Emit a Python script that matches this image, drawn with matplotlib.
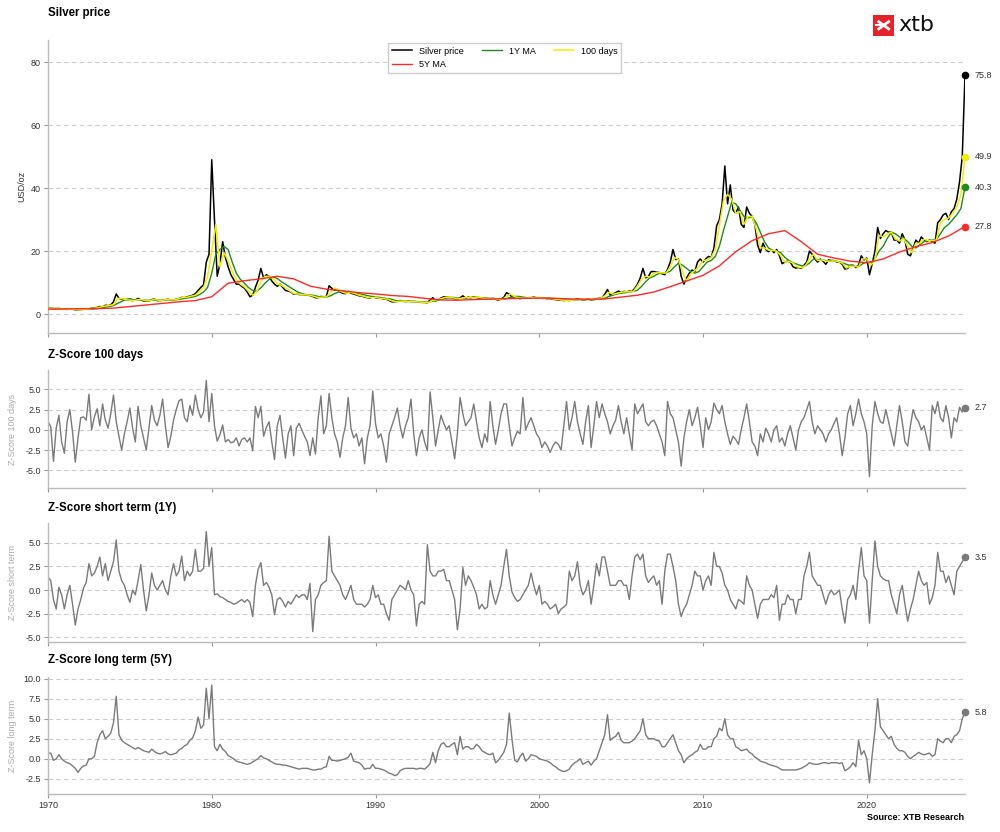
import numpy as np
import matplotlib
matplotlib.use("Agg")
import matplotlib.pyplot as plt
from matplotlib.patches import Rectangle

plt.rcParams['font.family'] = ['Liberation Sans', 'DejaVu Sans']

# silver price USD/oz, one reading every 2 months from Jan 1970, last one end of 2025
price = [
    1.85, 1.80, 1.70, 1.70, 1.75, 1.65,  # 1970
    1.60, 1.50, 1.55, 1.60, 1.35, 1.40,
    1.45, 1.55, 1.60, 1.70, 1.85, 2.00,
    2.10, 2.40, 2.30, 2.80, 2.70, 2.90,
    3.90, 6.40, 5.00, 4.70, 4.60, 4.50,
    4.40, 4.30, 4.50, 5.00, 4.50, 4.20,
    4.10, 4.20, 4.60, 4.80, 4.30, 4.30,
    4.40, 4.60, 4.70, 4.40, 4.50, 4.70,
    4.90, 5.30, 5.20, 5.50, 5.70, 6.00,
    6.50, 7.50, 8.50, 9.30, 16.5, 19.0,
    49.0, 30.0, 12.0, 16.0, 23.0, 18.0,  # 1980
    15.0, 12.5, 11.0, 9.5, 9.5, 8.8,
    8.2, 7.0, 5.5, 6.0, 8.5, 10.8,
    14.5, 11.5, 12.5, 12.0, 10.5, 9.5,
    8.8, 9.5, 8.5, 7.5, 7.3, 7.0,
    6.3, 6.5, 6.2, 6.2, 6.1, 6.0,
    5.9, 5.6, 5.2, 5.2, 5.6, 5.5,
    5.6, 9.0, 8.2, 7.6, 7.8, 7.0,
    6.6, 6.5, 7.2, 6.6, 6.4, 6.1,
    5.8, 5.7, 5.4, 5.2, 5.1, 5.6,
    5.2, 5.0, 5.0, 4.8, 4.7, 4.3,  # 1990
    3.9, 3.9, 4.0, 4.3, 4.1, 4.0,
    4.1, 4.0, 4.0, 3.9, 3.8, 3.7,
    3.7, 3.6, 4.5, 5.2, 4.2, 4.5,
    5.1, 5.5, 5.4, 5.3, 5.2, 4.9,
    4.7, 5.2, 5.8, 5.1, 5.4, 5.2,
    5.5, 5.3, 5.1, 5.0, 4.9, 4.9,
    4.8, 5.0, 4.7, 4.4, 4.8, 5.3,
    6.8, 6.3, 5.5, 5.4, 5.1, 4.9,
    5.2, 5.0, 5.2, 5.2, 5.4, 5.2,
    5.2, 5.0, 5.0, 4.9, 4.9, 4.7,  # 2000
    4.6, 4.4, 4.4, 4.3, 4.4, 4.3,
    4.5, 4.6, 4.9, 4.8, 4.5, 4.6,
    4.8, 4.5, 4.6, 4.9, 5.0, 5.2,
    6.3, 7.8, 6.0, 6.4, 6.8, 7.3,
    6.8, 7.2, 7.1, 7.3, 7.2, 8.2,
    9.5, 11.5, 14.5, 11.5, 12.0, 13.5,
    13.5, 13.3, 13.2, 12.8, 12.5, 14.2,
    16.5, 20.5, 17.3, 17.5, 12.0, 9.5,
    11.5, 13.0, 14.0, 13.5, 16.5, 17.5,
    16.5, 17.5, 18.3, 18.0, 21.0, 28.0,  # 2010
    30.0, 35.0, 47.0, 35.0, 41.0, 33.0,
    32.0, 34.0, 28.5, 27.5, 34.0, 32.0,
    31.0, 28.5, 22.0, 19.5, 22.5, 20.5,
    19.8, 20.5, 19.5, 20.5, 18.5, 16.0,
    16.5, 16.8, 16.5, 15.0, 14.6, 14.8,
    14.5, 15.5, 16.5, 20.0, 19.0, 17.5,
    16.5, 17.5, 16.8, 15.8, 17.2, 17.0,
    17.0, 16.5, 16.5, 15.8, 14.3, 14.5,
    15.5, 15.5, 14.8, 15.5, 18.5, 17.2,
    17.8, 12.5, 16.0, 20.0, 27.5, 24.0,  # 2020
    25.5, 26.5, 26.0, 26.0, 23.5, 23.5,
    22.5, 25.5, 23.5, 19.0, 18.5, 21.0,
    23.5, 22.5, 24.5, 23.5, 23.0, 23.5,
    23.0, 22.5, 29.0, 30.0, 31.5, 32.0,
    30.0, 32.5, 33.5, 36.5, 42.0, 50.0,
    75.8,
]

# moving averages, read quarterly (100 days, 1Y) and yearly (5Y)
ma_100d = [
    1.85, 1.80, 1.72, 1.72, 1.65, 1.55, 1.55, 1.45, 1.42, 1.52, 1.62, 1.85,
    2.00, 2.30, 2.55, 2.75, 3.00, 5.00, 4.90, 4.60, 4.40, 4.30, 4.60, 4.60,
    4.20, 4.30, 4.70, 4.40, 4.40, 4.65, 4.50, 4.55, 4.90, 5.30, 5.35, 5.70,
    6.00, 7.20, 8.50, 12.0,
    20.0, 28.5, 15.0, 19.5, 17.0, 13.5, 11.0, 9.5, 8.6, 7.2, 6.0, 7.0,  # 1980
    10.5, 12.0, 12.0, 11.3, 9.5, 9.2, 8.3, 7.4, 6.5, 6.4, 6.2, 6.1,
    6.0, 5.6, 5.2, 5.4, 5.5, 6.8, 8.3, 7.6, 6.9, 6.6, 6.9, 6.5,
    6.0, 5.7, 5.3, 5.2,
    5.3, 5.0, 4.9, 4.7, 4.2, 3.9, 4.1, 4.1, 4.0, 4.0, 3.9, 3.8,  # 1990
    3.7, 3.7, 4.4, 4.5, 4.9, 5.3, 5.4, 5.2, 4.8, 5.0, 5.3, 5.3,
    5.3, 5.4, 5.1, 4.9, 4.9, 4.9, 4.6, 4.7, 5.6, 6.4, 5.5, 5.2,
    5.1, 5.1, 5.2, 5.3,
    5.2, 5.1, 5.0, 4.9, 4.7, 4.5, 4.4, 4.3, 4.4, 4.6, 4.8, 4.6,  # 2000
    4.7, 4.6, 4.7, 5.0, 5.8, 6.9, 6.3, 6.6, 6.9, 7.1, 7.1, 7.2,
    9.0, 11.0, 12.0, 11.8, 13.0, 13.2, 13.1, 13.0, 15.0, 18.0, 17.3, 13.5,
    10.5, 12.8, 13.8, 15.0,
    17.0, 17.2, 18.0, 20.5, 28.0, 36.0, 38.0, 36.5, 32.0, 32.5, 28.5, 31.0,  # 2010
    31.0, 27.0, 21.0, 21.0, 20.3, 20.2, 20.0, 18.5, 16.5, 16.7, 16.2, 15.0,
    14.7, 15.3, 17.5, 19.0, 17.0, 17.2, 16.8, 16.8, 16.9, 16.6, 16.2, 14.6,
    15.2, 15.2, 15.0, 17.5,
    17.5, 15.5, 17.0, 25.0, 24.5, 25.5, 26.0, 23.8, 23.2, 24.0, 21.5, 19.5,  # 2020
    22.5, 22.5, 23.8, 23.3, 23.3, 23.5, 29.0, 30.0, 30.5, 32.0, 34.0, 38.0,
    49.9,
]

ma_1y = [
    1.90, 1.85, 1.80, 1.76, 1.72, 1.68, 1.62, 1.55, 1.50, 1.50, 1.53, 1.62,
    1.75, 1.95, 2.20, 2.45, 2.70, 3.40, 4.00, 4.70, 4.90, 4.50, 4.50, 4.50,
    4.40, 4.35, 4.40, 4.45, 4.45, 4.50, 4.55, 4.55, 4.65, 4.90, 5.10, 5.35,
    5.60, 6.20, 7.00, 8.50,
    13.0, 19.0, 20.5, 21.5, 20.5, 16.5, 13.0, 11.0, 9.8, 8.4, 7.5, 7.3,  # 1980
    8.3, 9.8, 11.0, 11.8, 11.3, 10.3, 9.5, 8.6, 7.8, 7.0, 6.5, 6.2,
    6.1, 5.9, 5.6, 5.4, 5.4, 5.8, 6.5, 7.0, 7.3, 7.0, 6.8, 6.7,
    6.5, 6.2, 5.9, 5.6,
    5.4, 5.3, 5.1, 4.9, 4.7, 4.3, 4.1, 4.0, 4.0, 4.0, 4.0, 3.9,  # 1990
    3.8, 3.8, 4.1, 4.3, 4.7, 5.0, 5.2, 5.3, 5.1, 5.0, 5.1, 5.2,
    5.3, 5.3, 5.2, 5.1, 5.0, 4.9, 4.8, 4.7, 4.9, 5.3, 5.6, 5.6,
    5.4, 5.2, 5.2, 5.2,
    5.2, 5.1, 5.1, 5.0, 4.9, 4.7, 4.5, 4.4, 4.4, 4.5, 4.6, 4.6,  # 2000
    4.6, 4.6, 4.7, 4.8, 5.0, 5.6, 6.0, 6.4, 6.6, 6.8, 7.0, 7.2,
    7.6, 8.8, 10.3, 11.5, 12.0, 12.8, 13.0, 13.1, 13.6, 15.0, 16.2, 15.5,
    14.5, 13.5, 13.0, 13.5,
    15.0, 16.5, 17.0, 18.3, 21.5, 26.5, 31.0, 35.5, 35.0, 33.0, 31.0, 30.5,  # 2010
    30.8, 29.0, 26.0, 23.0, 21.0, 20.2, 20.0, 19.5, 18.0, 17.0, 16.3, 15.8,
    15.4, 15.3, 16.2, 17.5, 17.3, 17.2, 17.0, 16.8, 16.9, 16.7, 16.3, 15.8,
    15.4, 15.2, 15.1, 16.0,
    16.5, 16.5, 17.5, 20.0, 21.5, 24.0, 26.0, 25.5, 24.5, 24.0, 23.0, 21.5,  # 2020
    21.0, 22.0, 23.0, 23.3, 23.5, 23.7, 25.5, 27.5, 28.5, 30.0, 31.5, 33.5,
    40.3,
]

ma_5y = [
    1.6, 1.65, 1.7, 1.75, 1.9, 2.4, 2.9, 3.4, 3.9, 4.3,
    5.5, 9.8, 10.6, 11.2, 12.0, 11.2, 8.9, 7.9, 7.4, 6.8,
    6.4, 5.9, 5.6, 5.0, 4.5, 4.4, 4.6, 4.8, 4.9, 5.0,
    5.1, 5.0, 4.8, 4.7, 4.8, 5.4, 6.0, 7.0, 8.7, 10.5,
    12.3, 15.3, 19.8, 23.3, 25.5, 26.5, 23.0, 19.0, 17.8, 16.8,
    16.3, 17.5, 19.7, 21.4, 22.7, 24.8, 27.8,
]

# z-scores, same 2-month steps as the price
z_100d = [
    1.0, 0.4, -3.9, 0.2, 1.8, -1.5,  # 1970
    -2.9, 1.0, 2.5, -0.3, -4.0, -1.0,
    1.5, 1.6, 1.2, 4.4, 0.0, 1.6,
    2.6, 0.5, 3.2, 1.2, 0.2, 2.0,
    4.3, 1.0, -0.8, -2.5, -0.5, 1.0,
    2.7, 0.2, -1.5, 2.9, 0.5, -1.0,
    -2.5, 0.3, 3.0, 1.2, 0.5, 1.8,
    3.8, 0.5, -2.2, -0.8, 1.2, 2.5,
    3.6, 3.8, 1.5, 1.0, 3.0, 1.8,
    4.3, 2.5, 1.5, 2.2, 6.1, 1.0,
    4.5, 0.5, -1.4, -0.6, 0.6, -1.5,  # 1980
    -1.2, -1.6, -1.5, -1.0, -2.0, -1.2,
    -1.0, -1.5, -1.0, -2.6, 2.9, 1.5,
    2.9, -0.8, 0.3, 1.0, -1.5, -3.7,
    0.5, 1.8, -1.0, -3.5, -0.5, 0.5,
    -3.2, 0.2, 0.8, 0.0, -0.8, -1.5,
    -3.2, -1.0, -3.0, 1.5, 4.2, -0.5,
    0.5, 4.5, 1.5, -0.5, -1.5, -3.4,
    -1.0, 0.5, 4.0, 0.2, -1.0, -0.5,
    -2.0, -1.0, -4.2, -1.0, 0.5, 4.8,
    0.8, -1.0, -0.5, -2.0, -4.0, -0.5,  # 1990
    0.5, 1.5, 2.7, 0.5, -1.0, 0.5,
    1.5, 3.8, -0.5, -3.2, -1.0, 0.0,
    -1.5, -2.6, 4.7, 1.5, -2.0, 0.0,
    1.8, 0.8, 0.0, 0.5, -1.5, -3.6,
    -0.5, 4.0, 2.0, 0.5, 1.0, 1.5,
    3.2, 1.0, -1.0, -2.2, -0.5, -1.5,
    3.5, 0.5, -1.8, 0.0, 2.0, 3.2,
    3.2, 0.5, -2.0, -1.0, -0.2, -0.5,
    4.0, 0.0, 0.8, 1.5, 0.5, -0.5,
    -1.0, -2.2, -1.5, -2.0, -2.8, -2.0,  # 2000
    -1.5, -1.8, -2.5, 0.5, 3.5, 0.0,
    1.5, 3.5, 1.0, -0.5, -1.8, 1.0,
    3.0, -2.2, 0.5, 3.5, 1.5, 3.2,
    2.0, 1.0, -0.5, 0.5, 1.2, 3.0,
    1.0, -0.5, 1.5, -0.5, -2.5, 3.2,
    2.0, 2.6, 3.2, 1.0, 0.5, 1.0,
    1.2, 0.5, -0.5, -1.5, -3.2, 3.5,
    2.0, 1.5, 0.0, -1.5, -4.5, -1.0,
    1.0, 2.5, 0.5, 1.5, 2.8, 0.5,
    -2.2, 1.5, 0.0, 1.0, 3.3, 2.5,  # 2010
    2.0, 3.0, 1.0, -0.5, -1.8, -0.8,
    -1.2, -1.8, 0.0, 1.5, 3.2, 1.0,
    -1.5, -2.0, -3.2, -0.5, -1.5, 0.2,
    -0.5, -1.5, 0.0, 0.5, -1.5, -1.0,
    -2.0, -0.5, 0.5, -1.0, -2.5, 0.0,
    1.0, 1.5, 2.5, 3.5, 1.0, -0.5,
    0.5, 0.0, -0.5, -1.5, -0.5, 0.0,
    0.8, 1.5, -0.5, -3.2, -1.0, 2.0,
    3.0, 0.5, 2.0, 3.8, 2.0, 1.0,
    -0.5, -5.8, 0.5, 3.5, 2.0, 1.0,  # 2020
    0.8, 2.5, 1.0, -0.5, -2.0, 0.5,
    3.0, 1.0, -1.5, -2.0, 0.5, 2.5,
    1.5, 1.0, 0.0, 0.5, -1.0, -2.5,
    3.0, 2.0, 3.5, 1.5, 1.0, 3.0,
    1.5, -1.0, 1.5, 1.0, 2.8, 2.2,
    2.7,
]

z_1y = [
    1.4, 1.0, -1.0, -2.0, 0.3, -0.5,  # 1970
    -2.0, -0.5, 0.5, -1.5, -3.7, -2.0,
    -1.0, 0.2, 0.8, 2.8, 1.5, 1.8,
    2.5, 3.5, 1.5, 2.8, 1.0, 2.0,
    3.0, 5.3, 2.0, 1.0, 0.5, -0.5,
    -1.3, 0.0, -0.5, 1.0, 2.7, 0.0,
    -2.2, -0.5, 1.8, 0.5, 0.0, 0.5,
    1.0, 0.0, -0.5, 1.5, 2.8, 1.5,
    2.0, 3.6, 1.0, 2.0, 1.5, 2.0,
    4.3, 2.0, 2.0, 2.3, 6.2, 2.5,
    4.5, -0.5, -0.4, -0.7, -0.8, -1.0,  # 1980
    -1.2, -1.3, -1.5, -1.4, -1.2, -1.0,
    -1.3, -1.0, -1.3, -2.8, 0.5, 2.2,
    2.9, 0.5, 0.8, 0.3, -0.5, -2.6,
    -1.0, -0.8, -1.2, -1.8, -1.2, -1.5,
    -1.0, -0.5, -0.8, -0.5, -0.5, -1.0,
    0.7, -4.4, -1.0, -0.5, 0.5, 0.8,
    1.0, 5.7, 2.0, 1.5, 1.0, 0.5,
    -0.5, -1.0, -0.3, 0.5, -1.0, -1.5,
    -1.5, -1.5, -1.8, -1.5, -1.0, 0.5,
    -0.8, -0.5, -1.5, -1.5, -2.5, -3.2,  # 1990
    -1.0, -0.5, 0.0, 0.5, 0.3, 0.0,
    1.0, 0.0, -0.5, -3.8, -1.5, -1.2,
    -1.5, 4.8, 2.0, 1.5, 1.5, 2.0,
    2.0, 2.2, 1.0, 1.0, 0.0, -1.0,
    -4.2, -2.0, 2.4, 0.5, 1.5, 1.0,
    0.3, -0.5, -2.0, -1.5, -2.0, -1.8,
    1.0, -0.5, -1.5, -0.5, 0.5, 2.5,
    4.3, 1.5, -0.2, -0.8, -1.2, -1.0,
    -0.5, 0.0, 0.5, 1.8, 0.5, -0.5,
    0.5, -1.5, -1.2, -1.5, -2.0, -1.8,  # 2000
    -1.5, -2.5, -2.0, -1.8, -1.5, 2.0,
    1.0, 1.5, 3.0, 0.5, -0.5, 0.0,
    1.0, -1.5, 0.5, 2.8, 1.5, 3.5,
    3.5, 2.0, 0.5, 0.5, 0.5, 1.0,
    1.0, 0.5, 0.5, -1.0, 1.5, 3.5,
    3.8, 3.2, 3.8, 1.5, 0.8, 1.2,
    1.5, 0.5, 1.0, -1.5, 2.0, 3.8,
    3.8, 2.5, 1.0, -1.5, -2.8, -2.0,
    -1.5, -0.5, 0.5, 2.0, 1.5, 1.5,
    0.0, 1.0, 1.5, 0.5, 4.0, 2.5,  # 2010
    2.5, 1.8, 0.5, 0.0, -1.0, -1.5,
    -2.0, -1.0, -1.2, -1.5, 1.5, 0.5,
    0.0, -1.5, -3.0, -1.5, -1.0, -1.0,
    -1.0, -0.5, -0.8, 0.5, -3.2, -1.5,
    -1.5, -0.5, -1.0, -1.0, -2.5, -1.0,
    -1.0, 1.5, 2.5, 4.0, 1.5, 1.0,
    0.5, 0.5, -0.5, -1.5, -0.5, 0.0,
    -0.5, -0.3, 0.0, -2.0, -3.5, -1.0,
    -0.5, 0.5, -1.0, 2.0, 4.5, 1.5,
    1.0, -3.5, 1.0, 5.2, 2.5, 1.5,  # 2020
    1.2, 1.0, 1.0, -0.5, -1.5, -2.5,
    -0.5, 0.5, -1.5, -3.3, -2.0, -1.0,
    0.5, 2.0, 1.0, 0.5, 0.8, -1.5,
    -0.8, 0.5, 4.0, 2.0, 2.0, 0.8,
    1.5, 0.5, -0.5, 2.0, 2.5, 3.0,
    3.5,
]

z_5y = [
    0.7, 0.7, -0.2, 0.0, 0.5, 0.0,  # 1970
    -0.3, -0.5, -0.6, -0.9, -1.2, -1.7,
    -1.2, -0.9, -0.8, 0.0, 0.0, 0.3,
    2.0, 3.0, 3.5, 2.5, 2.8, 3.2,
    4.5, 7.8, 3.0, 2.3, 2.0, 1.8,
    1.6, 1.4, 1.2, 1.4, 1.2, 1.0,
    0.9, 0.8, 1.2, 0.9, 0.7, 0.6,
    0.7, 0.9, 0.6, 0.5, 0.6, 0.7,
    1.1, 1.3, 1.6, 1.8, 2.3, 2.6,
    3.5, 5.2, 3.8, 4.2, 8.8, 5.0,
    9.2, 1.5, 1.0, 1.8, 1.2, 0.9,  # 1980
    0.4, 0.2, 0.0, -0.3, -0.4, -0.5,
    -0.6, -0.7, -0.6, -0.4, -0.2, 0.0,
    0.4, 0.1, 0.0, -0.2, -0.4, -0.6,
    -0.7, -0.7, -0.8, -0.8, -0.9, -1.0,
    -1.1, -1.2, -1.3, -1.2, -1.2, -1.2,
    -1.3, -1.4, -1.4, -1.3, -1.3, -1.1,
    -1.0, 0.3, -0.2, -0.2, -0.3, -0.2,
    -0.1, 0.0, 0.2, 0.7, -0.3, -0.4,
    -0.5, -0.8, -1.3, -1.2, -1.2, -0.7,
    -1.2, -1.2, -1.3, -1.4, -1.6, -1.8,  # 1990
    -1.9, -2.1, -2.0, -1.5, -1.3, -1.2,
    -1.2, -1.2, -1.2, -1.3, -1.2, -1.2,
    -1.3, -1.0, -0.6, 0.8, -0.5, 1.0,
    1.8, 2.0, 1.5, 1.5, 1.8, 2.0,
    0.5, 2.8, 1.2, 1.5, 1.5, 1.2,
    1.3, 1.8, 1.5, 1.0, 0.8, 0.6,
    0.5, 0.7, -0.5, -0.2, 0.3, 0.8,
    1.8, 5.7, 2.5, -0.2, -0.4, 0.3,
    0.7, -0.3, 0.0, 0.5, 0.4, 0.3,
    0.0, -0.1, -0.2, -0.3, -0.5, -0.8,  # 2000
    -1.0, -1.3, -1.5, -1.6, -1.5, -1.3,
    -0.8, -0.5, -0.3, 0.0, -0.7, -0.5,
    -0.3, -0.8, -0.3, 0.0, 1.0, 2.0,
    3.0, 5.5, 2.3, 2.6, 2.8, 3.3,
    2.3, 2.0, 2.0, 2.0, 2.2, 2.5,
    3.0, 3.5, 5.0, 3.0, 2.5, 2.5,
    2.5, 2.3, 2.2, 1.5, 1.5, 2.0,
    2.5, 3.0, 2.0, 1.0, 0.5, -0.5,
    0.0, 0.3, 0.5, 0.8, 1.0, 1.8,
    1.2, 1.2, 1.5, 1.5, 2.5, 2.8,  # 2010
    3.8, 3.5, 5.0, 3.0, 2.5, 2.5,
    1.5, 1.3, 1.0, 1.1, 1.2, 0.8,
    0.6, 0.2, 0.0, -0.3, -0.4, -0.5,
    -0.7, -0.8, -0.9, -1.0, -1.2, -1.4,
    -1.4, -1.4, -1.4, -1.4, -1.4, -1.3,
    -1.2, -1.0, -0.8, -0.5, -0.6, -0.7,
    -0.7, -0.6, -0.5, -0.5, -0.6, -0.5,
    -0.5, -0.5, -0.6, -0.5, -1.5, -1.3,
    -1.0, -0.5, -1.0, 2.3, 0.5, 1.0,
    0.0, -3.0, 0.5, 3.5, 7.5, 4.0,  # 2020
    3.5, 3.0, 2.5, 2.8, 1.8, 1.3,
    1.0, 1.0, 0.8, 0.3, 0.0, 0.3,
    0.5, 0.8, 0.6, 0.5, 0.6, 0.7,
    0.3, 0.5, 2.5, 2.2, 2.0, 2.5,
    2.5, 2.0, 2.8, 3.0, 3.5, 5.0,
    5.8,
]

decades = [1970, 1980, 1990, 2000, 2010, 2020]

t6 = 1970 + np.arange(len(price)) / 6
t4 = 1970 + np.arange(len(ma_100d)) / 4
t1 = 1970 + np.arange(len(ma_5y))

W, H = 1000, 832


def box(top, bottom):
    return [48 / W, 1 - bottom / H, 917 / W, (bottom - top) / H]


def style(ax, last=False):
    for s in ['top', 'right']:
        ax.spines[s].set_visible(False)
    for s in ['left', 'bottom']:
        ax.spines[s].set_color('#bbbbbb')
        ax.spines[s].set_linewidth(1.0)
    ax.grid(axis='y', linestyle=(0, (4, 3)), color='#cccccc', linewidth=0.8)
    ax.set_axisbelow(True)
    ax.tick_params(labelsize=6.5, labelcolor='#333333', length=3, color='#999999', pad=2)
    ax.set_xlim(1970, 2026)
    ax.set_xticks(decades)
    ax.set_xticklabels([str(d) for d in decades])
    if not last:
        ax.tick_params(labelbottom=False)


def end_label(ax, x, y, color):
    ax.plot([x], [y], 'o', color=color, ms=4.5, clip_on=False, zorder=10)
    ax.annotate(f'{y:.1f}', (x, y), xytext=(7, 0), textcoords='offset points',
                va='center', ha='left', fontsize=6.5, color='#333333', annotation_clip=False)


fig = plt.figure(figsize=(10, 8.32), dpi=100)
ax0 = fig.add_axes(box(40, 333))
ax1 = fig.add_axes(box(370, 488))
ax2 = fig.add_axes(box(523, 642))
ax3 = fig.add_axes(box(677, 794))

# price panel
l_price, = ax0.plot(t6, price, color='black', lw=1.1, zorder=2, label='Silver price')
l_1y, = ax0.plot(t4, ma_1y, color='#1f8a1f', lw=1.0, zorder=3, label='1Y MA')
l_100, = ax0.plot(t4, ma_100d, color='#f2ee00', lw=1.1, zorder=4, label='100 days')
l_5y, = ax0.plot(t1, ma_5y, color='#ff2a2a', lw=1.0, zorder=5, label='5Y MA')
style(ax0)
ax0.set_ylim(-6, 87)
ax0.set_yticks([0, 20, 40, 60, 80])
ax0.set_ylabel('USD/oz', fontsize=6.5, color='#333333')
ax0.yaxis.set_label_coords(-0.024, 0.5)
ax0.legend(handles=[l_price, l_5y, l_1y, l_100], ncol=3, loc='upper center',
           bbox_to_anchor=(0.498, 0.99), borderaxespad=0, fontsize=6.5,
           handlelength=2.2, handletextpad=0.8, columnspacing=2.0,
           frameon=True, edgecolor='#cccccc', fancybox=False, framealpha=1)
end_label(ax0, t6[-1], price[-1], 'black')
end_label(ax0, t4[-1], ma_100d[-1], '#f2ee00')
end_label(ax0, t4[-1], ma_1y[-1], '#1f8a1f')
end_label(ax0, t1[-1], ma_5y[-1], '#ff2a2a')

# z-score panels
zpanels = [
    (ax1, z_100d, 'Z-Score 100 days', (-7.2, 7.4), [-5, -2.5, 0, 2.5, 5]),
    (ax2, z_1y, 'Z-Score short term', (-5.5, 7.1), [-5, -2.5, 0, 2.5, 5]),
    (ax3, z_5y, 'Z-Score long term', (-4.4, 10.2), [-2.5, 0, 2.5, 5, 7.5, 10]),
]
for i, (ax, z, lab, lim, ticks) in enumerate(zpanels):
    ax.plot(t6, z, color='#7a7a7a', lw=1.0)
    style(ax, last=(i == 2))
    ax.set_ylim(*lim)
    ax.set_yticks(ticks)
    ax.set_yticklabels([f'{v:.1f}' for v in ticks])
    ax.set_ylabel(lab, fontsize=6.5, color='#aaaaaa')
    ax.yaxis.set_label_coords(-0.0338, 0.5)
    end_label(ax, t6[-1], z[-1], '#7a7a7a')

# titles
titles = [(13, 'Silver price'), (355, 'Z-Score 100 days'),
          (508, 'Z-Score short term (1Y)'), (660, 'Z-Score long term (5Y)')]
for y, txt in titles:
    fig.text(48 / W, 1 - y / H, txt, fontsize=8.3, fontweight='bold', va='center', ha='left')

fig.text(964 / W, 1 - 818 / H, 'Source: XTB Research', fontsize=6.5,
         fontweight='bold', va='center', ha='right')

# xtb logo: red square with a white mark, then the word
logo = fig.add_axes([873 / W, 1 - 36 / H, 21 / W, 21 / H])
logo.set_xlim(0, 1)
logo.set_ylim(0, 1)
logo.axis('off')
logo.add_patch(Rectangle((0, 0), 1, 1, color='#e3242b'))
logo.plot([0.22, 0.8], [0.72, 0.3], color='white', lw=2.0, solid_capstyle='butt')
logo.plot([0.22, 0.8], [0.3, 0.72], color='white', lw=2.0, solid_capstyle='butt')
logo.plot([0.12, 0.5], [0.51, 0.51], color='white', lw=1.5)
fig.text(898 / W, 1 - 25 / H, 'xtb', fontsize=16, family='DejaVu Sans',
         va='center', ha='left', color='#111111')

fig.savefig('out.png', dpi=100)
